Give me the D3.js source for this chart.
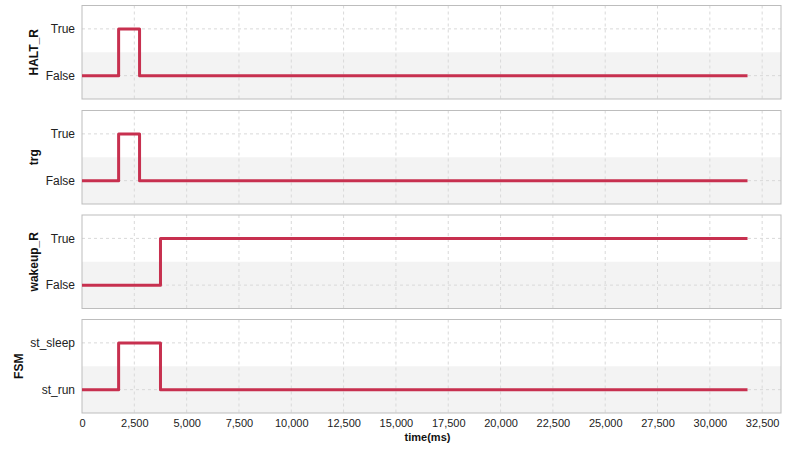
<!DOCTYPE html>
<html><head><meta charset="utf-8">
<script src="https://cdn.jsdelivr.net/npm/d3@7"></script>
<style>
html,body{margin:0;padding:0;background:#fff;}
text{font-family:"Liberation Sans",Arial,Helvetica,sans-serif;}
</style></head>
<body><svg id="chart" width="788" height="451"></svg>
<script>
// ---- data ----
const timeMs   = [0, 1750, 2750, 3750, 31800];
const haltR    = ["False", "True", "False", "False", "False"];
const trg      = ["False", "True", "False", "False", "False"];
const wakeupR  = ["False", "False", "False", "True", "True"];
const fsm      = ["st_run", "st_sleep", "st_sleep", "st_run", "st_run"];
const signalNames = ["HALT_R", "trg", "wakeup_R", "FSM"];
const signalValues = [haltR, trg, wakeupR, fsm];
const signalLevels = [["False", "True"], ["False", "True"], ["False", "True"], ["st_run", "st_sleep"]];
const xTickValues = [0, 2500, 5000, 7500, 10000, 12500, 15000, 17500, 20000, 22500, 25000, 27500, 30000, 32500];
const xMax = 33400;
const xTitle = "time(ms)";

// ---- layout ----
const svg = d3.select("#chart");
const left = 82, right = 781;
const panelTop = [5.5, 110.5, 215, 319.5];
const panelH = 93.5;

const x = d3.scaleLinear().domain([0, xMax]).range([left, right]);
const fmt = d3.format(",");

signalNames.forEach((name, i) => {
  const top = panelTop[i], bottom = top + panelH;
  const y = d3.scalePoint().domain(signalLevels[i]).range([bottom, top]).padding(0.5);
  const g = svg.append("g");
  const mid = (y(signalLevels[i][0]) + y(signalLevels[i][1])) / 2;
  // alternating band
  g.append("rect").attr("x", left).attr("y", mid).attr("width", right - left).attr("height", bottom - mid)
    .attr("fill", "#f3f3f3");
  // vertical grid
  g.selectAll(".vg").data(xTickValues.filter(v => v > 0)).join("line")
    .attr("x1", d => x(d)).attr("x2", d => x(d)).attr("y1", top).attr("y2", bottom)
    .attr("stroke", "#d9d9d9").attr("stroke-dasharray", "3,3").attr("stroke-width", 1);
  // horizontal grid
  g.selectAll(".hg").data(signalLevels[i]).join("line")
    .attr("x1", left).attr("x2", right).attr("y1", d => y(d)).attr("y2", d => y(d))
    .attr("stroke", "#d9d9d9").attr("stroke-dasharray", "3,3").attr("stroke-width", 1);
  // border
  g.append("rect").attr("x", left).attr("y", top).attr("width", right - left).attr("height", panelH)
    .attr("fill", "none").attr("stroke", "#bdbdbd").attr("stroke-width", 1);
  // y axis labels
  const yAxis = d3.axisLeft(y).tickSize(0).tickPadding(7);
  const ya = g.append("g").attr("transform", `translate(${left},0)`).call(yAxis);
  ya.select(".domain").remove();
  ya.selectAll("text").attr("font-size", 12).attr("fill", "#222")
    .style("font-family", "'Liberation Sans',Arial,sans-serif");
  // y title
  let maxW = 0;
  ya.selectAll("text").each(function(){ maxW = Math.max(maxW, this.getBBox().width); });
  const tx = left - 7 - maxW - 7;
  g.append("text").attr("transform", `translate(${tx},${(top + bottom) / 2}) rotate(-90)`)
    .attr("text-anchor", "middle").attr("font-size", 12).attr("font-weight", "bold").attr("fill", "#111")
    .text(name);
  // line
  const pts = timeMs.map((t, k) => [t, signalValues[i][k]]);
  const line = d3.line().x(d => x(d[0])).y(d => y(d[1])).curve(d3.curveStepAfter);
  g.append("path").datum(pts).attr("d", line).attr("fill", "none")
    .attr("stroke", "#c7304f").attr("stroke-width", 3).attr("stroke-linejoin", "round");
});

// x axis
const lastBottom = panelTop[3] + panelH;
const xa = svg.append("g").attr("transform", `translate(0,${lastBottom})`)
  .call(d3.axisBottom(x).tickValues(xTickValues).tickFormat(fmt).tickSize(0).tickPadding(6));
xa.select(".domain").remove();
xa.selectAll("text").attr("font-size", 11).attr("fill", "#222")
  .style("font-family", "'Liberation Sans',Arial,sans-serif");
svg.append("text").attr("x", (left + right) / 2 - 4).attr("y", 441).attr("text-anchor", "middle")
  .attr("font-size", 11).attr("font-weight", "bold").attr("fill", "#111").text(xTitle);
</script></body></html>
